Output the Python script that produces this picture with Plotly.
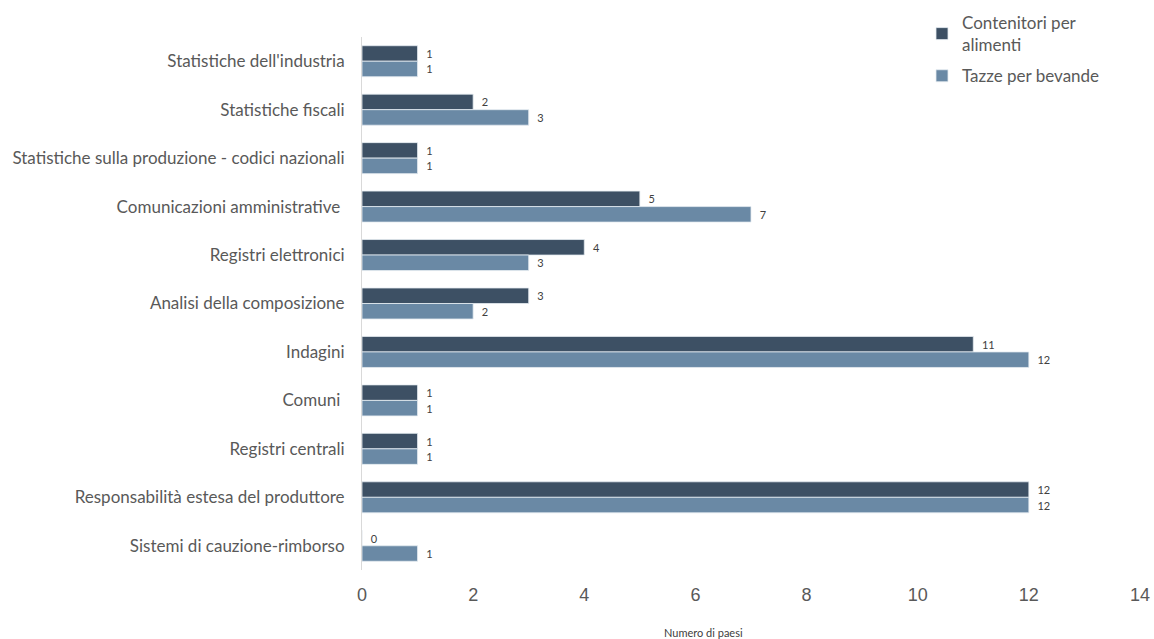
import plotly.graph_objects as go

categories = [
    "Statistiche dell'industria",
    "Statistiche fiscali",
    "Statistiche sulla produzione - codici nazionali",
    "Comunicazioni amministrative ",
    "Registri elettronici",
    "Analisi della composizione",
    "Indagini",
    "Comuni ",
    "Registri centrali",
    "Responsabilità estesa del produttore",
    "Sistemi di cauzione-rimborso",
]
contenitori = [1, 2, 1, 5, 4, 3, 11, 1, 1, 12, 0]
tazze = [1, 3, 1, 7, 3, 2, 12, 1, 1, 12, 1]
series_names = ["Contenitori per<br>alimenti", "Tazze per bevande"]
x_ticks = [0, 2, 4, 6, 8, 10, 12, 14]

W, H = 1154, 639
ml, mr, mt, mb = 362, 14, 37, 69
pw = W - ml - mr
ph = H - mt - mb

fig = go.Figure()
for i, (name, vals, col) in enumerate([(series_names[0], contenitori, "#3d5064"),
                                        (series_names[1], tazze, "#6a89a5")]):
    fig.add_trace(go.Bar(
        y=categories, x=vals, orientation="h", name=name, legendgroup=f"g{i}",
        marker=dict(color=col, line=dict(color="#e6ecf1", width=0.8)),
        text=["  " + str(v) for v in vals], textposition="outside",
        textfont=dict(family="Lato, Open Sans, sans-serif", size=11, color="#404040"),
        cliponaxis=False,
    ))

fig.update_layout(
    width=W, height=H,
    margin=dict(l=ml, r=mr, t=mt, b=mb, autoexpand=False),
    paper_bgcolor="white", plot_bgcolor="white",
    barmode="group", bargap=0.36, bargroupgap=0,
    font=dict(family="Lato, Open Sans, sans-serif", color="#595959"),
    xaxis=dict(range=[0, 14], tickvals=x_ticks, showgrid=False, zeroline=False,
               showline=False, ticks="", automargin=False, ticklabelstandoff=12,
               tickfont=dict(family="Liberation Sans, Arial, sans-serif", size=18, color="#595959")),
    yaxis=dict(autorange="reversed", showgrid=False, showline=True, linecolor="#d9d9d9",
               linewidth=1, ticks="", automargin=False, ticklabelstandoff=13,
               tickfont=dict(family="Lato, Open Sans, sans-serif", size=17, color="#595959")),
    legend=dict(xref="container", yref="container", x=922 / W, y=1 - 5 / H,
                xanchor="left", yanchor="top",
                font=dict(family="Lato, Open Sans, sans-serif", size=17, color="#595959"),
                traceorder="grouped", bgcolor="rgba(0,0,0,0)", tracegroupgap=6),
    annotations=[dict(text="Numero di paesi", xref="paper", yref="paper",
                      x=(703 - ml) / pw, y=-(641 - (mt + ph)) / ph, showarrow=False,
                      font=dict(family="Lato, Open Sans, sans-serif", size=11, color="#404040"))],
)

fig.write_html("out.html", config={"displayModeBar": False},
               post_script="document.body.style.margin='0';")
